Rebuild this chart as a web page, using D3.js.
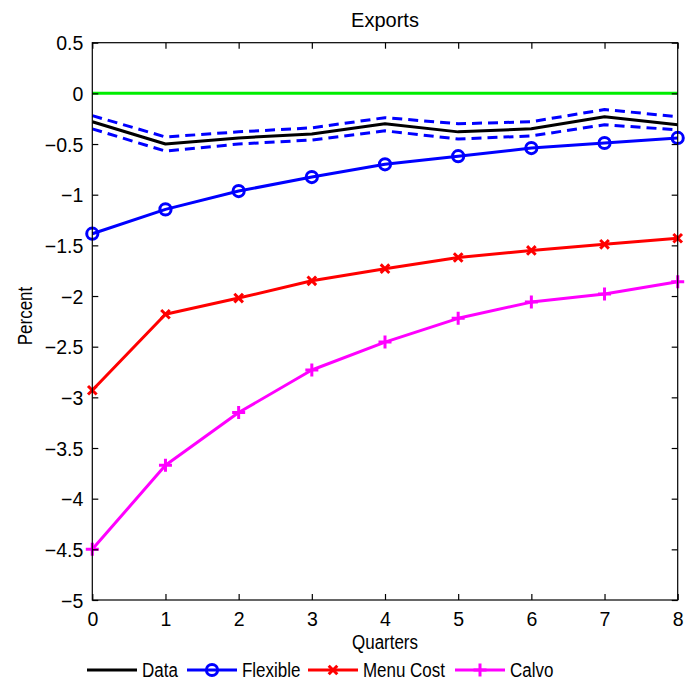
<!DOCTYPE html>
<html><head><meta charset="utf-8">
<script src="https://cdn.jsdelivr.net/npm/d3@7"></script>
<style>body{margin:0;background:#fff;}svg{display:block;font-family:"Liberation Sans",Arial,sans-serif;}</style>
</head><body>
<svg id="c" width="688" height="684"></svg>
<script>
const quarters = [0,1,2,3,4,5,6,7,8];
const dataMid   = [-0.28,-0.50,-0.44,-0.40,-0.30,-0.38,-0.35,-0.23,-0.31];
const dataUpper = [-0.22,-0.43,-0.38,-0.34,-0.24,-0.30,-0.28,-0.16,-0.23];
const dataLower = [-0.35,-0.57,-0.50,-0.46,-0.37,-0.45,-0.42,-0.31,-0.36];
const flexible  = [-1.385,-1.145,-0.964,-0.826,-0.70,-0.62,-0.54,-0.49,-0.44];
const menuCost  = [-2.93,-2.18,-2.02,-1.85,-1.73,-1.62,-1.55,-1.49,-1.43];
const calvo     = [-4.50,-3.67,-3.15,-2.73,-2.455,-2.22,-2.06,-1.98,-1.86];
const zeroLine  = [0,0,0,0,0,0,0,0,0];
const yTicks = [0.5,0,-0.5,-1,-1.5,-2,-2.5,-3,-3.5,-4,-4.5,-5];
const legendNames = ["Data","Flexible","Menu Cost","Calvo"];

const svg = d3.select("#c");
const L=92.3, R=677.7, T=42.7, B=600;
const x = d3.scaleLinear().domain([0,8]).range([L,R]);
const y = d3.scaleLinear().domain([-5,0.5]).range([B,T]);
const fmt = v => (v<0?"\u2212":"") + Math.abs(v);
const FS = 19.5;
const SX = 0.87;
const LW = 3;

// plot lines
const line = d3.line().x((d,i)=>x(quarters[i])).y(d=>y(d));
function drawLine(vals,color,dash){
  svg.append("path").attr("d",line(vals)).attr("fill","none").attr("stroke",color)
    .attr("stroke-width",LW).attr("stroke-linejoin","round")
    .attr("stroke-dasharray",dash||null);
}
drawLine(zeroLine,"#00ee00");
drawLine(dataUpper,"#0000ff","10,6");
drawLine(dataLower,"#0000ff","10,6");
drawLine(dataMid,"#000000");
drawLine(flexible,"#0000ff");
drawLine(menuCost,"#ff0000");
drawLine(calvo,"#ff00ff");

function marker(g,type,cx,cy,color){
  if(type==="o"){
    g.append("circle").attr("cx",cx).attr("cy",cy).attr("r",5.6).attr("fill","none").attr("stroke",color).attr("stroke-width",LW);
  } else if(type==="x"){
    const s=4.3;
    g.append("path").attr("d",`M${cx-s},${cy-s}L${cx+s},${cy+s}M${cx-s},${cy+s}L${cx+s},${cy-s}`).attr("stroke",color).attr("stroke-width",LW);
  } else if(type==="+"){
    const s=6.5;
    g.append("path").attr("d",`M${cx-s},${cy}L${cx+s},${cy}M${cx},${cy-s}L${cx},${cy+s}`).attr("stroke",color).attr("stroke-width",LW);
  }
}
const mg = svg.append("g");
flexible.forEach((v,i)=>marker(mg,"o",x(quarters[i]),y(v),"#0000ff"));
menuCost.forEach((v,i)=>marker(mg,"x",x(quarters[i]),y(v),"#ff0000"));
calvo.forEach((v,i)=>marker(mg,"+",x(quarters[i]),y(v),"#ff00ff"));

// axes box
svg.append("rect").attr("x",L).attr("y",T).attr("width",R-L).attr("height",B-T)
  .attr("fill","none").attr("stroke","#000").attr("stroke-width",1.2);

// axes with inward ticks
const tk = 6;
const xb = svg.append("g").attr("transform",`translate(0,${B})`)
  .call(d3.axisBottom(x).tickValues(quarters).tickSize(-tk).tickPadding(12).tickFormat(d=>d));
const xt = svg.append("g").attr("transform",`translate(0,${T})`)
  .call(d3.axisTop(x).tickValues(quarters).tickSize(-tk).tickFormat(""));
const yl = svg.append("g").attr("transform",`translate(${L},0)`)
  .call(d3.axisLeft(y).tickValues(yTicks).tickSize(-tk).tickPadding(9).tickFormat(fmt));
const yr = svg.append("g").attr("transform",`translate(${R},0)`)
  .call(d3.axisRight(y).tickValues(yTicks).tickSize(-tk).tickFormat(""));
[xb,xt,yl,yr].forEach(g=>{
  g.select(".domain").remove();
  g.selectAll("line").attr("stroke","#000").attr("stroke-width",1.2);
  g.selectAll("text").attr("font-size",FS).attr("fill","#000").attr("font-family","Liberation Sans, Arial, sans-serif");
});
yl.selectAll("text").attr("dy","0.36em");

// titles
svg.append("text").attr("x",(L+R)/2).attr("y",27).attr("text-anchor","middle").attr("font-size",20).text("Exports");
svg.append("text").attr("transform",`translate(${(L+R)/2},649) scale(${SX},1)`).attr("text-anchor","middle").attr("font-size",FS).text("Quarters");
svg.append("text").attr("transform",`translate(32,316) rotate(-90) scale(${SX},1)`).attr("text-anchor","middle").attr("font-size",FS).text("Percent");

// legend
const legColors = ["#000000","#0000ff","#ff0000","#ff00ff"];
const legMarkers = [null,"o","x","+"];
const legX = [87,187,308,455];
const ly = 670;
const lg = svg.append("g");
legendNames.forEach((n,i)=>{
  const x0 = legX[i];
  lg.append("line").attr("x1",x0).attr("x2",x0+50).attr("y1",ly).attr("y2",ly).attr("stroke",legColors[i]).attr("stroke-width",LW);
  if(legMarkers[i]) marker(lg,legMarkers[i],x0+25,ly,legColors[i]);
  lg.append("text").attr("transform",`translate(${x0+55},${ly}) scale(${SX},1)`).attr("dy","0.36em").attr("font-size",FS).text(n);
});
</script>
</body></html>
